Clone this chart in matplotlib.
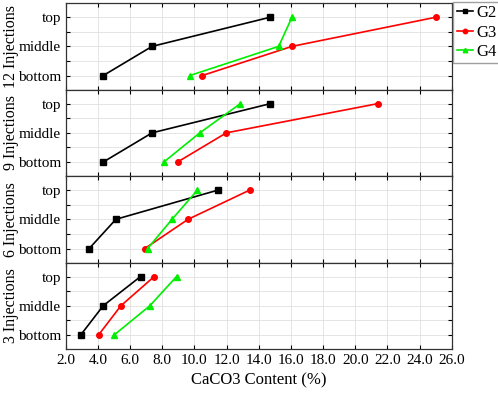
import matplotlib.pyplot as plt
from matplotlib.ticker import MultipleLocator

plt.rcParams['font.family'] = ['Liberation Serif', 'DejaVu Serif']

levels = ['bottom', 'middle', 'top']
panels = ['12 Injections', '9 Injections', '6 Injections', '3 Injections']
groups = ['G2', 'G3', 'G4']

# CaCO3 content (%) at bottom, middle, top for each panel
g2 = {
    '12 Injections': [4.33, 7.37, 14.73],
    '9 Injections': [4.33, 7.37, 14.73],
    '6 Injections': [3.46, 5.12, 11.47],
    '3 Injections': [2.93, 4.33, 6.65],
}
g3 = {
    '12 Injections': [10.48, 16.07, 25.04],
    '9 Injections': [8.95, 11.99, 21.41],
    '6 Injections': [6.92, 9.61, 13.44],
    '3 Injections': [4.04, 5.43, 7.50],
}
g4 = {
    '12 Injections': [9.71, 15.24, 16.07],
    '9 Injections': [8.10, 10.34, 12.86],
    '6 Injections': [7.09, 8.61, 10.19],
    '3 Injections': [5.01, 7.23, 8.89],
}

series = [(g2, 'black', 's'), (g3, 'red', 'o'), (g4, '#00ee00', '^')]

fig, axes = plt.subplots(4, 1, figsize=(4.98, 3.93), dpi=100, sharex=True)
fig.subplots_adjust(left=0.132, right=0.907, top=0.992, bottom=0.112, hspace=0)

ypos = [0, 1, 2]
for ax, name in zip(axes, panels):
    for (data, color, marker), g in zip(series, groups):
        ax.plot(data[name], ypos, color=color, marker=marker, markersize=4,
                linewidth=1.2, label=g)
    ax.set_xlim(2, 26)
    ax.set_ylim(-0.48, 2.48)
    ax.set_yticks(ypos)
    ax.set_yticklabels(levels, fontsize=11)
    ax.yaxis.set_minor_locator(MultipleLocator(0.5))
    ax.xaxis.set_major_locator(MultipleLocator(2))
    ax.tick_params(which='both', direction='in', top=True, right=True, length=3,
                   width=0.8, labelsize=11)
    ax.grid(True, which='major', color='#e0e0e0', linewidth=0.6)
    ax.grid(True, which='minor', axis='y', color='#e0e0e0', linewidth=0.6)
    ax.set_axisbelow(True)
    ax.set_ylabel(name, fontsize=11.5)
    ax.yaxis.set_label_coords(-0.122, 0.5)
    for s in ax.spines.values():
        s.set_linewidth(0.9)
        s.set_color('#333333')

axes[-1].set_xticklabels([f'{v:.1f}' for v in axes[-1].get_xticks()])
axes[-1].set_xlabel('CaCO3 Content (%)', fontsize=12)

handles, labels = axes[0].get_legend_handles_labels()
fig.legend(handles, labels, loc='upper left', bbox_to_anchor=(0.91, 0.995),
           fontsize=12, frameon=True, fancybox=False, edgecolor='#888888',
           handlelength=1.0, handletextpad=0.2, borderpad=0.2, labelspacing=0.2,
           borderaxespad=0, markerscale=0.8)

fig.savefig('out.png', dpi=100)
